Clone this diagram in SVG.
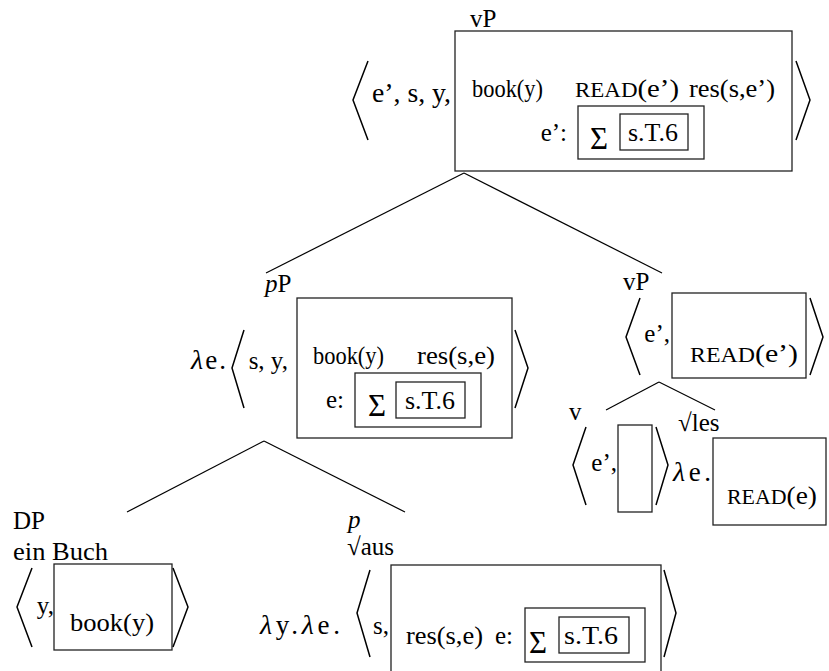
<svg xmlns="http://www.w3.org/2000/svg" width="829" height="671" viewBox="0 0 829 671">
<style>
text{font-family:"Liberation Serif","Times New Roman",serif;font-size:25px;fill:#000}
.sc{font-size:20px}
.it{font-style:italic}
.lam{font-size:27px}
.l{font-style:italic;font-size:28px}
.sig{font-size:31px}
.e{text-anchor:end}
.box{fill:none;stroke:#222;stroke-width:1.3}
.br{fill:none;stroke:#000;stroke-width:1.5}
.edge{fill:none;stroke:#000;stroke-width:1.2}
</style>
<rect width="829" height="671" fill="#fff"/>
<g id="connectors">
<line class="edge" x1="464" y1="173" x2="266" y2="273"/>
<line class="edge" x1="464" y1="173" x2="662" y2="273"/>
<line class="edge" x1="264" y1="441" x2="127" y2="512"/>
<line class="edge" x1="264" y1="441" x2="405" y2="512"/>
<line class="edge" x1="659" y1="382" x2="606" y2="410"/>
<line class="edge" x1="659" y1="382" x2="715" y2="410"/>
</g>
<g id="node-vP-top">
<text x="470" y="27">vP</text>
<polyline class="br" points="368,61 353,100 368,140"/>
<text class="lam" x="372" y="102" textLength="79" lengthAdjust="spacingAndGlyphs">e’, s, y,</text>
<rect class="box" x="455" y="31" width="337" height="140"/>
<text x="472" y="97" textLength="71" lengthAdjust="spacingAndGlyphs">book(y)</text>
<text x="575" y="97" textLength="104" lengthAdjust="spacingAndGlyphs"><tspan class="sc">READ</tspan>(e’)</text>
<text x="689" y="97" textLength="86" lengthAdjust="spacingAndGlyphs">res(s,e’)</text>
<text class="e" x="567" y="141">e’:</text>
<rect class="box" x="578" y="106" width="126" height="53"/>
<text class="sig" x="590" y="149">Σ</text>
<rect class="box" x="620" y="114" width="68" height="36"/>
<text x="628" y="141" textLength="50" lengthAdjust="spacingAndGlyphs">s.T.6</text>
<polyline class="br" points="796,61 810,100 796,140"/>
</g>
<g id="node-pP">
<text x="265" y="292"><tspan class="it">p</tspan>P</text>
<text class="lam" x="191" y="369" textLength="35" lengthAdjust="spacing"><tspan class="l">λ</tspan>e.</text>
<polyline class="br" points="244,330 232,368 244,408"/>
<text class="e" x="288" y="369">s, y,</text>
<rect class="box" x="297" y="298" width="215" height="140"/>
<text x="313" y="364" textLength="71" lengthAdjust="spacingAndGlyphs">book(y)</text>
<text x="417" y="364" textLength="78" lengthAdjust="spacingAndGlyphs">res(s,e)</text>
<text class="e" x="344" y="408">e:</text>
<rect class="box" x="355" y="373" width="126" height="54"/>
<text class="sig" x="368" y="416">Σ</text>
<rect class="box" x="396" y="382" width="69" height="36"/>
<text x="405" y="409" textLength="50" lengthAdjust="spacingAndGlyphs">s.T.6</text>
<polyline class="br" points="515,330 528,368 515,408"/>
</g>
<g id="node-vP-right">
<text x="623" y="290">vP</text>
<polyline class="br" points="640,298 626,337 640,375"/>
<text class="e" x="670" y="342">e’,</text>
<rect class="box" x="672" y="293" width="134" height="85"/>
<text x="690" y="362" textLength="108" lengthAdjust="spacingAndGlyphs"><tspan class="sc">READ</tspan>(e’)</text>
<polyline class="br" points="810,298 823,337 810,375"/>
</g>
<g id="node-v">
<text x="569" y="420">v</text>
<polyline class="br" points="586,427 573,465 586,505"/>
<text class="e" x="617" y="471">e’,</text>
<rect class="box" x="618" y="425" width="34" height="87"/>
<polyline class="br" points="656,427 668,465 656,505"/>
</g>
<g id="node-les">
<text x="678" y="431">√les</text>
<text class="lam" x="673" y="481" textLength="38" lengthAdjust="spacing"><tspan class="l">λ</tspan>e.</text>
<rect class="box" x="713" y="438" width="113" height="87"/>
<text x="727" y="504" textLength="90" lengthAdjust="spacingAndGlyphs"><tspan class="sc">READ</tspan>(e)</text>
</g>
<g id="node-DP">
<text x="13" y="529">DP</text>
<text x="13" y="560" textLength="95" lengthAdjust="spacingAndGlyphs">ein Buch</text>
<polyline class="br" points="32,568 17,607 32,647"/>
<text class="e" x="54" y="614">y,</text>
<rect class="box" x="54" y="564" width="118" height="86"/>
<text x="70" y="631" textLength="84" lengthAdjust="spacingAndGlyphs">book(y)</text>
<polyline class="br" points="173,568 188,607 173,647"/>
</g>
<g id="node-p">
<text class="it" x="348" y="528">p</text>
<text x="347" y="555">√aus</text>
<text class="lam" x="260" y="634" textLength="80" lengthAdjust="spacing"><tspan class="l">λ</tspan>y.<tspan class="l">λ</tspan>e.</text>
<polyline class="br" points="370,570 357,613 370,657"/>
<text class="e" x="389" y="634">s,</text>
<rect class="box" x="391" y="565" width="270" height="130"/>
<text x="406" y="644" textLength="77" lengthAdjust="spacingAndGlyphs">res(s,e)</text>
<text class="e" x="513" y="644">e:</text>
<rect class="box" x="525" y="608" width="120" height="54"/>
<text class="sig" x="529" y="653">Σ</text>
<rect class="box" x="559" y="617" width="70" height="36"/>
<text x="564" y="644" textLength="54" lengthAdjust="spacingAndGlyphs">s.T.6</text>
<polyline class="br" points="664,570 676,613 664,657"/>
</g>
</svg>
